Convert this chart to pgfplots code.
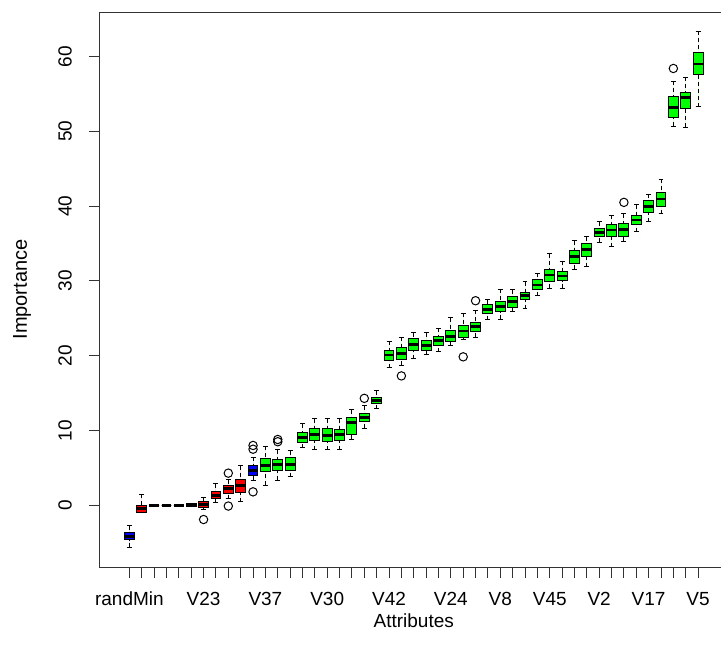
\documentclass[border=0pt]{standalone}
\usepackage{pgfplots}
\pgfplotsset{compat=1.18}
\usepgfplotslibrary{statistics}
\usepackage{fontspec}
\setmainfont{Liberation Sans}
\definecolor{rG}{RGB}{0,255,0}
\definecolor{rR}{RGB}{255,0,0}
\definecolor{rB}{RGB}{0,0,255}
\newcommand{\bx}[8]{%
\addplot[draw=black, fill=#2, line width=0.5pt, mark=o, mark size=2.1pt, mark options={solid,fill=none,draw=black,line width=0.5pt},
 boxplot prepared={draw position=#1, lower whisker=#3, lower quartile=#4, median=#5, upper quartile=#6, upper whisker=#7}] #8;}
\begin{document}
\begin{tikzpicture}
\begin{axis}[
  scale only axis, width=313.75pt, height=277.5pt,
  xmin=-1.38, xmax=49.38, ymin=-8.25, ymax=65.95,
  axis line style={black!80, line width=0.5pt},
  tick style={black!80, line width=0.5pt},
  tick align=outside, major tick length=5.5pt,
  xtick pos=bottom, ytick pos=left,
  xtick={1,...,47},
  xticklabels={randMin,,,,,,V23,,,,,V37,,,,,V30,,,,,V42,,,,,V24,,,,V8,,,,V45,,,,V2,,,,V17,,,,V5},
  ytick={0,10,20,30,40,50,60},
  /pgf/number format/assume math mode=true,
  every tick label/.append style={font=\fontsize{9.5}{11}\selectfont},
  xticklabel style={yshift=-3.5pt},
  yticklabel style={xshift=-5pt, rotate=90, anchor=south},
  xlabel={Attributes}, ylabel={Importance},
  label style={font=\fontsize{9.5}{11}\selectfont},
  xlabel style={yshift=3pt},
  every axis y label/.style={at={(rel axis cs:-0.1243,0.5)}, rotate=90, anchor=center},
  boxplot/draw direction=y,
  boxplot/box extend=0.8,
  boxplot/whisker extend=0.4,
  boxplot/every median/.style={line width=1.4pt},
  boxplot/draw/lower whisker/.code={
    \draw[dash pattern=on 2pt off 1.5pt] (boxplot cs:\pgfplotsboxplotvalue{lower whisker}) -- (boxplot cs:\pgfplotsboxplotvalue{lower quartile});
    \draw (boxplot whisker cs:\pgfplotsboxplotvalue{lower whisker},0) -- (boxplot whisker cs:\pgfplotsboxplotvalue{lower whisker},1);
  },
  boxplot/draw/upper whisker/.code={
    \draw[dash pattern=on 2pt off 1.5pt] (boxplot cs:\pgfplotsboxplotvalue{upper whisker}) -- (boxplot cs:\pgfplotsboxplotvalue{upper quartile});
    \draw (boxplot whisker cs:\pgfplotsboxplotvalue{upper whisker},0) -- (boxplot whisker cs:\pgfplotsboxplotvalue{upper whisker},1);
  },
]
\coordinate (sw) at (rel axis cs:0,0);
\coordinate (ne) at (rel axis cs:1,1);
\bx{1}{rB}{-5.6}{-4.6}{-4.15}{-3.6}{-2.7}{coordinates {}}
\bx{2}{rR}{-0.9}{-0.9}{-0.45}{0}{1.5}{coordinates {}}
\bx{3}{rR}{0}{0}{0}{0}{0}{coordinates {}}
\bx{4}{rR}{0}{0}{0}{0}{0}{coordinates {}}
\bx{5}{rR}{0}{0}{0}{0}{0}{coordinates {}}
\bx{6}{rR}{-0.2}{-0.2}{0}{0.2}{0.2}{coordinates {}}
\bx{7}{rR}{-0.5}{-0.25}{0.13}{0.45}{1.1}{table[row sep=\\,y index=0]{-1.9\\}}
\bx{8}{rR}{0.4}{0.9}{1.35}{1.85}{2.9}{coordinates {}}
\bx{9}{rR}{0.9}{1.6}{2.2}{2.7}{3.4}{table[row sep=\\,y index=0]{4.3\\-0.1\\}}
\bx{10}{rR}{0.45}{1.75}{2.7}{3.5}{5.3}{coordinates {}}
\bx{11}{rB}{3.35}{4.0}{4.7}{5.3}{6.4}{table[row sep=\\,y index=0]{8.0\\7.5\\1.8\\}}
\bx{12}{rG}{2.7}{4.5}{5.35}{6.2}{7.9}{coordinates {}}
\bx{13}{rG}{3.35}{4.7}{5.5}{6.1}{7.4}{table[row sep=\\,y index=0]{8.8\\8.5\\}}
\bx{14}{rG}{3.8}{4.6}{5.5}{6.4}{7.3}{coordinates {}}
\bx{15}{rG}{7.7}{8.4}{9.05}{9.7}{10.9}{coordinates {}}
\bx{16}{rG}{7.45}{8.7}{9.5}{10.3}{11.6}{coordinates {}}
\bx{17}{rG}{7.45}{8.5}{9.3}{10.3}{11.6}{coordinates {}}
\bx{18}{rG}{7.45}{8.7}{9.5}{10.1}{11.6}{coordinates {}}
\bx{19}{rG}{8.8}{9.5}{11.1}{11.7}{12.8}{coordinates {}}
\bx{20}{rG}{10.3}{11.15}{11.7}{12.3}{13.3}{table[row sep=\\,y index=0]{14.3\\}}
\bx{21}{rG}{12.9}{13.6}{14.0}{14.4}{15.3}{coordinates {}}
\bx{22}{rG}{18.4}{19.4}{20.1}{20.65}{21.95}{coordinates {}}
\bx{23}{rG}{18.7}{19.5}{20.3}{21.1}{22.45}{table[row sep=\\,y index=0]{17.3\\}}
\bx{24}{rG}{19.6}{20.75}{21.5}{22.3}{23.1}{coordinates {}}
\bx{25}{rG}{20.2}{20.75}{21.4}{22.1}{23.1}{coordinates {}}
\bx{26}{rG}{20.5}{21.3}{22.0}{22.6}{23.65}{coordinates {}}
\bx{27}{rG}{21.3}{21.9}{22.6}{23.4}{25.1}{coordinates {}}
\bx{28}{rG}{22.2}{22.5}{23.3}{24.0}{25.7}{table[row sep=\\,y index=0]{19.85\\}}
\bx{29}{rG}{22.45}{23.2}{23.9}{24.5}{26.1}{table[row sep=\\,y index=0]{27.35\\}}
\bx{30}{rG}{24.8}{25.65}{26.2}{26.8}{27.45}{coordinates {}}
\bx{31}{rG}{24.9}{25.9}{26.6}{27.2}{28.9}{coordinates {}}
\bx{32}{rG}{25.9}{26.5}{27.3}{27.9}{28.8}{coordinates {}}
\bx{33}{rG}{26.3}{27.5}{28.0}{28.5}{29.9}{coordinates {}}
\bx{34}{rG}{28.0}{28.8}{29.45}{30.2}{31.0}{coordinates {}}
\bx{35}{rG}{29.0}{29.9}{30.8}{31.55}{33.6}{coordinates {}}
\bx{36}{rG}{29.0}{30.0}{30.65}{31.2}{32.6}{coordinates {}}
\bx{37}{rG}{31.55}{32.35}{33.25}{34.0}{35.4}{coordinates {}}
\bx{38}{rG}{31.9}{33.3}{34.2}{35.0}{35.9}{coordinates {}}
\bx{39}{rG}{35.2}{35.9}{36.45}{37.0}{37.9}{coordinates {}}
\bx{40}{rG}{34.6}{36.0}{36.8}{37.5}{38.8}{coordinates {}}
\bx{41}{rG}{35.3}{36.0}{36.9}{37.7}{39.0}{table[row sep=\\,y index=0]{40.5\\}}
\bx{42}{rG}{36.6}{37.5}{38.15}{38.8}{40.2}{coordinates {}}
\bx{43}{rG}{37.9}{39.1}{40.0}{40.8}{41.6}{coordinates {}}
\bx{44}{rG}{39.0}{40.0}{40.96}{41.8}{43.6}{coordinates {}}
\bx{45}{rG}{50.7}{51.9}{53.2}{54.6}{56.7}{table[row sep=\\,y index=0]{58.4\\}}
\bx{46}{rG}{50.55}{53.0}{54.5}{55.2}{57.2}{coordinates {}}
\bx{47}{rG}{53.3}{57.6}{59.0}{60.55}{63.4}{coordinates {}}
\end{axis}
\pgfresetboundingbox
\path[use as bounding box] ([shift={(-50pt,-47.5pt)}]sw) rectangle ([shift={(-3.25pt,6pt)}]ne);
\end{tikzpicture}
\end{document}
